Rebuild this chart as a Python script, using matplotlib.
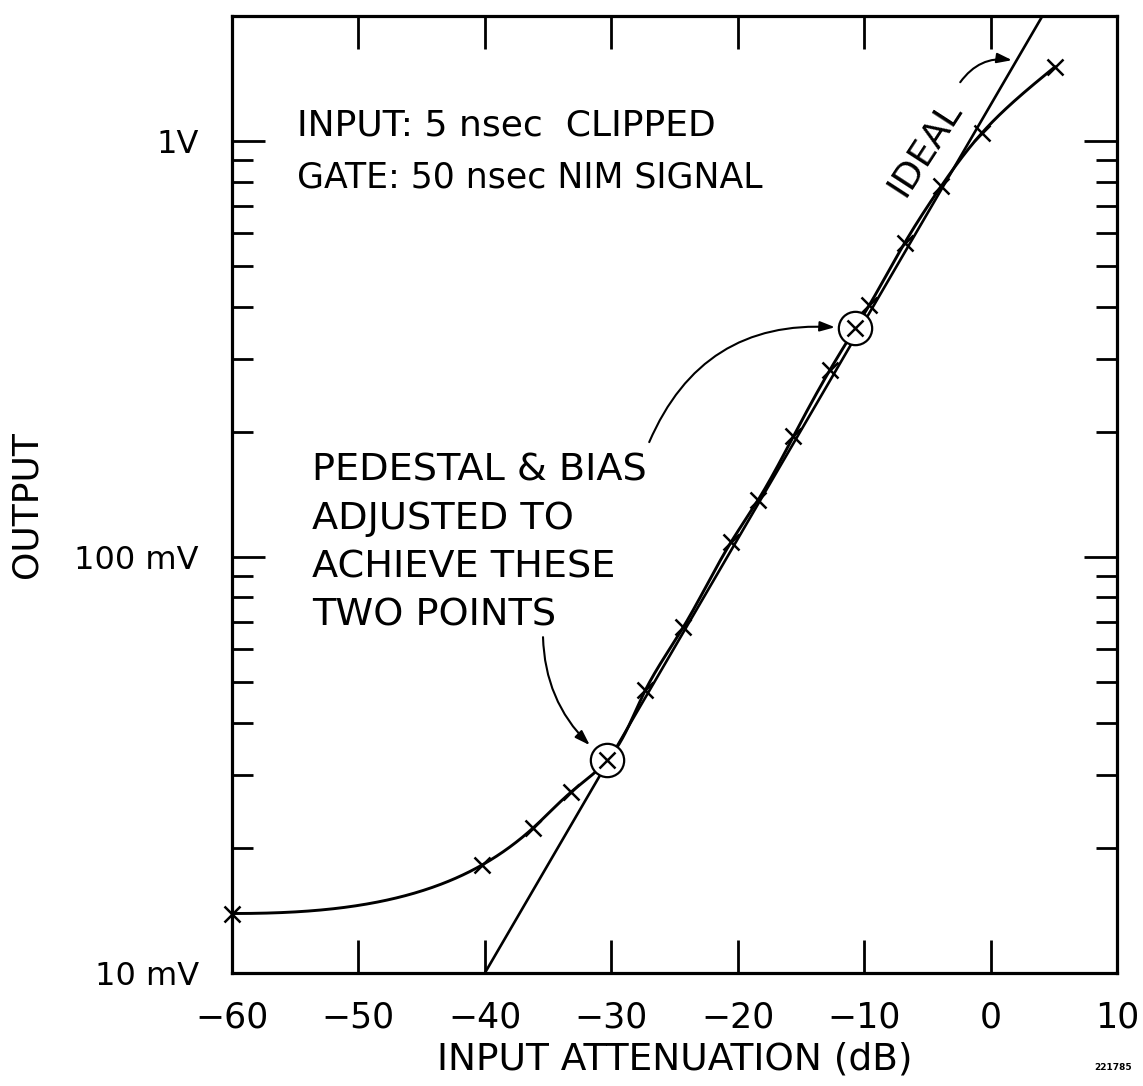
import numpy as np
import matplotlib
matplotlib.use("Agg")
import matplotlib.pyplot as plt
from matplotlib.ticker import FixedLocator, NullFormatter

# ---- data ----
atten_db = [-60, -40.2, -36.2, -33.2, -30.3, -27.3, -24.3, -20.5, -18.4,
            -15.6, -12.7, -10.7, -9.6, -6.8, -3.9, -0.7, 5.1]
output_v = [0.0139, 0.0182, 0.0223, 0.0272, 0.0325, 0.0479, 0.0679, 0.109,
            0.137, 0.195, 0.282, 0.355, 0.403, 0.569, 0.780, 1.045, 1.51]
calib_idx = [4, 11]
ideal_x = [-40.0, 4.1]
ideal_v = [0.01, 2.0]

x_ticks = [-60, -50, -40, -30, -20, -10, 0, 10]
x_ticklabels = ["\u221260", "\u221250", "\u221240", "\u221230", "\u221220",
                "\u221210", "0", "10"]
y_major = [0.01, 0.1, 1.0]
y_ticklabels = ["10 mV", "100 mV", "1V"]

plt.rcParams['font.family'] = ['DejaVu Sans']

fig = plt.figure(figsize=(11.43, 10.86), dpi=100)
W, H = 1143, 1086
L, R, T, B = 232, 1117, 16, 973
ax = fig.add_axes([L / W, 1 - B / H, (R - L) / W, (B - T) / H])
ax.set_xscale('linear')
ax.set_yscale('log')
ax.set_xlim(-60, 10)
ax.set_ylim(0.01, 2.0)


def spline_1d(t, c, d0=None):
    """Cubic spline second derivatives; clamped start (d0) or natural, natural end."""
    n = len(t)
    h = np.diff(t)
    A = np.zeros((n, n))
    rhs = np.zeros(n)
    if d0 is None:
        A[0, 0] = 1.0
    else:
        A[0, 0] = 2 * h[0]
        A[0, 1] = h[0]
        rhs[0] = 6 * ((c[1] - c[0]) / h[0] - d0)
    for i in range(1, n - 1):
        A[i, i - 1] = h[i - 1]
        A[i, i] = 2 * (h[i - 1] + h[i])
        A[i, i + 1] = h[i]
        rhs[i] = 6 * ((c[i + 1] - c[i]) / h[i] - (c[i] - c[i - 1]) / h[i - 1])
    A[-1, -1] = 1.0
    return np.linalg.solve(A, rhs)


def eval_spline(t, c, M, tt):
    out = np.empty_like(tt)
    idx = np.clip(np.searchsorted(t, tt) - 1, 0, len(t) - 2)
    for j, (s, i) in enumerate(zip(tt, idx)):
        h = t[i + 1] - t[i]
        a = (t[i + 1] - s) / h
        b = (s - t[i]) / h
        out[j] = (a * c[i] + b * c[i + 1]
                  + ((a ** 3 - a) * M[i] + (b ** 3 - b) * M[i + 1]) * h * h / 6)
    return out


def smooth_curve(xs, ys, n=800):
    k = 416 / 12.64          # make one decade and one dB isotropic like on paper
    px = np.asarray(xs, float)
    py = np.log10(ys) * k
    t = np.concatenate([[0], np.cumsum(np.hypot(np.diff(px), np.diff(py)))])
    Mx = spline_1d(t, px, d0=1.0)
    My = spline_1d(t, py, d0=0.0)
    tt = np.linspace(t[0], t[-1], n)
    return eval_spline(t, px, Mx, tt), 10 ** (eval_spline(t, py, My, tt) / k)


cx, cy = smooth_curve(atten_db, output_v)
ax.plot(cx, cy, color='black', lw=2.1, solid_capstyle='round', zorder=3)
ax.plot(atten_db, output_v, linestyle='none', marker='x', ms=12, mew=1.8,
        color='black', zorder=4, clip_on=False)
ax.plot([atten_db[i] for i in calib_idx], [output_v[i] for i in calib_idx],
        linestyle='none', marker='o', ms=24, mfc='white', mec='black', mew=1.6,
        zorder=5)
ax.plot([atten_db[i] for i in calib_idx], [output_v[i] for i in calib_idx],
        linestyle='none', marker='x', ms=12, mew=1.8, color='black', zorder=6)

# ideal line
ax.plot(ideal_x, ideal_v, color='black', lw=1.9, zorder=2)

# ticks
ax.xaxis.set_major_locator(FixedLocator(x_ticks))
ax.set_xticklabels(x_ticklabels)
ax.yaxis.set_major_locator(FixedLocator(y_major))
ax.set_yticklabels(y_ticklabels)
minors = [m * d for d in (0.01, 0.1, 1.0) for m in range(2, 10) if m * d <= 2.0]
ax.yaxis.set_minor_locator(FixedLocator(minors))
ax.yaxis.set_minor_formatter(NullFormatter())
ax.xaxis.set_minor_locator(FixedLocator([]))
ax.tick_params(axis='both', which='major', direction='in', length=24, width=2,
               top=True, right=True, labelsize=25, pad=20, colors='black')
ax.tick_params(axis='y', which='minor', direction='in', length=15, width=2,
               left=True, right=True)
ax.tick_params(axis='y', which='major', labelsize=23, pad=24)
for s in ax.spines.values():
    s.set_linewidth(2.3)

ax.set_xlabel("INPUT ATTENUATION (dB)", fontsize=27, labelpad=5)
ax.set_ylabel("OUTPUT", fontsize=26)
ax.yaxis.set_label_coords(-0.213, 0.49)


def fx(px):
    return (px - L) / (R - L)


def fy(py):
    return (B - py) / (B - T)


ax.text(fx(297), fy(125), "INPUT: 5 nsec  CLIPPED", transform=ax.transAxes,
        fontsize=26, ha='left', va='center')
ax.text(fx(297), fy(178), "GATE: 50 nsec NIM SIGNAL", transform=ax.transAxes,
        fontsize=25, ha='left', va='center')
ax.text(fx(312), fy(543), "PEDESTAL & BIAS\nADJUSTED TO\nACHIEVE THESE\nTWO POINTS",
        transform=ax.transAxes, fontsize=27.5, ha='left', va='center',
        linespacing=1.43)
ax.text(fx(925), fy(148), "IDEAL", transform=ax.transAxes, fontsize=26,
        ha='center', va='center', rotation=57, rotation_mode='anchor')

arrow_kw = dict(arrowstyle='-|>,head_length=0.9,head_width=0.3', color='black',
                lw=1.5, shrinkA=0, shrinkB=0)
ax.annotate("", xy=(-12.3, 0.357), xytext=(-27.0, 0.189),
            arrowprops=dict(connectionstyle='arc3,rad=-0.35', **arrow_kw))
ax.annotate("", xy=(-31.7, 0.0353), xytext=(-35.4, 0.0642),
            arrowprops=dict(connectionstyle='arc3,rad=0.2', **arrow_kw))
ax.annotate("", xy=(1.7, 1.566), xytext=(-2.4, 1.386),
            arrowprops=dict(connectionstyle='arc3,rad=-0.3', **arrow_kw))

fig.text(1113 / W, 1 - 1068 / H, "221785", fontsize=6.5, fontweight='bold',
         ha='center', va='center')

fig.savefig("out.png", dpi=100)
